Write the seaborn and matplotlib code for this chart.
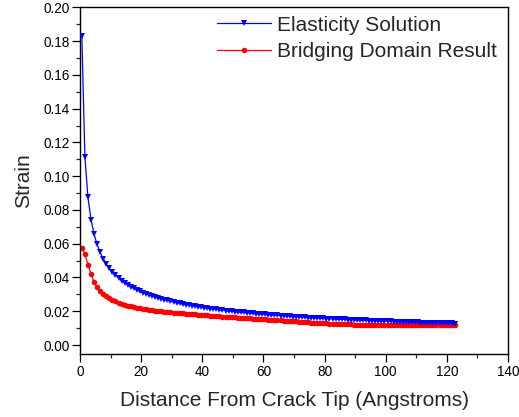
import matplotlib
matplotlib.use("Agg")
import matplotlib.pyplot as plt
from matplotlib.ticker import MultipleLocator
import seaborn as sns
import pandas as pd

# ---- data ----
distance = [0.6, 1.6, 2.6, 3.6, 4.6, 5.6, 6.6, 7.6, 8.6, 9.6,
            10.6, 11.6, 12.6, 13.6, 14.6, 15.6, 16.6, 17.6, 18.6, 19.6,
            20.6, 21.6, 22.6, 23.6, 24.6, 25.6, 26.6, 27.6, 28.6, 29.6,
            30.6, 31.6, 32.6, 33.6, 34.6, 35.6, 36.6, 37.6, 38.6, 39.6,
            40.6, 41.6, 42.6, 43.6, 44.6, 45.6, 46.6, 47.6, 48.6, 49.6,
            50.6, 51.6, 52.6, 53.6, 54.6, 55.6, 56.6, 57.6, 58.6, 59.6,
            60.6, 61.6, 62.6, 63.6, 64.6, 65.6, 66.6, 67.6, 68.6, 69.6,
            70.6, 71.6, 72.6, 73.6, 74.6, 75.6, 76.6, 77.6, 78.6, 79.6,
            80.6, 81.6, 82.6, 83.6, 84.6, 85.6, 86.6, 87.6, 88.6, 89.6,
            90.6, 91.6, 92.6, 93.6, 94.6, 95.6, 96.6, 97.6, 98.6, 99.6,
            100.6, 101.6, 102.6, 103.6, 104.6, 105.6, 106.6, 107.6, 108.6, 109.6,
            110.6, 111.6, 112.6, 113.6, 114.6, 115.6, 116.6, 117.6, 118.6, 119.6,
            120.6, 121.6, 122.6]

elasticity = [0.1830, 0.1115, 0.0874, 0.0743, 0.0657, 0.0596, 0.0549, 0.0511, 0.0481, 0.0455,
              0.0433, 0.0414, 0.0397, 0.0382, 0.0369, 0.0357, 0.0346, 0.0336, 0.0327, 0.0318,
              0.0311, 0.0303, 0.0297, 0.0290, 0.0284, 0.0279, 0.0273, 0.0268, 0.0264, 0.0259,
              0.0255, 0.0251, 0.0247, 0.0243, 0.0240, 0.0236, 0.0233, 0.0230, 0.0227, 0.0224,
              0.0221, 0.0219, 0.0216, 0.0214, 0.0211, 0.0209, 0.0207, 0.0204, 0.0202, 0.0200,
              0.0198, 0.0196, 0.0194, 0.0193, 0.0191, 0.0189, 0.0187, 0.0186, 0.0184, 0.0183,
              0.0181, 0.0180, 0.0178, 0.0177, 0.0175, 0.0174, 0.0173, 0.0171, 0.0170, 0.0169,
              0.0168, 0.0167, 0.0165, 0.0164, 0.0163, 0.0162, 0.0161, 0.0160, 0.0159, 0.0158,
              0.0157, 0.0156, 0.0155, 0.0154, 0.0153, 0.0152, 0.0152, 0.0151, 0.0150, 0.0149,
              0.0148, 0.0147, 0.0147, 0.0146, 0.0145, 0.0144, 0.0143, 0.0143, 0.0142, 0.0141,
              0.0141, 0.0140, 0.0139, 0.0139, 0.0138, 0.0137, 0.0137, 0.0136, 0.0135, 0.0135,
              0.0134, 0.0133, 0.0133, 0.0132, 0.0132, 0.0131, 0.0131, 0.0130, 0.0129, 0.0129,
              0.0128, 0.0128, 0.0127]

bridging = [0.0575, 0.0540, 0.0475, 0.0422, 0.0373, 0.0345, 0.0320, 0.0302, 0.0288, 0.0276,
            0.0266, 0.0258, 0.0251, 0.0244, 0.0239, 0.0234, 0.0229, 0.0225, 0.0221, 0.0218,
            0.0215, 0.0212, 0.0209, 0.0207, 0.0204, 0.0202, 0.0200, 0.0198, 0.0196, 0.0194,
            0.0192, 0.0190, 0.0188, 0.0187, 0.0185, 0.0184, 0.0182, 0.0181, 0.0179, 0.0178,
            0.0177, 0.0175, 0.0174, 0.0173, 0.0172, 0.0170, 0.0169, 0.0168, 0.0167, 0.0166,
            0.0164, 0.0163, 0.0162, 0.0161, 0.0160, 0.0159, 0.0157, 0.0156, 0.0155, 0.0154,
            0.0152, 0.0151, 0.0150, 0.0149, 0.0147, 0.0146, 0.0145, 0.0144, 0.0142, 0.0141,
            0.0140, 0.0139, 0.0137, 0.0136, 0.0135, 0.0133, 0.0132, 0.0131, 0.0130, 0.0129,
            0.0128, 0.0127, 0.0126, 0.0125, 0.0124, 0.0123, 0.0123, 0.0122, 0.0122, 0.0121,
            0.0121, 0.0121, 0.0120, 0.0120, 0.0120, 0.0119, 0.0119, 0.0119, 0.0119, 0.0118,
            0.0118, 0.0118, 0.0118, 0.0118, 0.0118, 0.0118, 0.0118, 0.0118, 0.0118, 0.0118,
            0.0118, 0.0118, 0.0118, 0.0118, 0.0118, 0.0118, 0.0119, 0.0119, 0.0119, 0.0119,
            0.0119, 0.0120, 0.0120]

label_elastic = "Elasticity Solution"
label_bridge = "Bridging Domain Result"
x_ticks = [0, 20, 40, 60, 80, 100, 120, 140]
y_ticks = [0.00, 0.02, 0.04, 0.06, 0.08, 0.10, 0.12, 0.14, 0.16, 0.18, 0.20]

# ---- styling ----
sns.set_style("ticks")
plt.rcParams['font.family'] = ['Liberation Sans', 'DejaVu Sans']

fig = plt.figure(figsize=(5.19, 4.17), dpi=100)
ax = fig.add_axes([80/519, 1 - 354/417, 428/519, 346.7/417])

df_e = pd.DataFrame({"x": distance, "y": elasticity})
df_b = pd.DataFrame({"x": distance, "y": bridging})

sns.lineplot(data=df_e, x="x", y="y", ax=ax, color="#0000ff", marker="v",
             markersize=4.6, markeredgewidth=0, linewidth=0.9, label=label_elastic,
             sort=False, zorder=3)
sns.lineplot(data=df_b, x="x", y="y", ax=ax, color="#ff0000", marker="o",
             markersize=4.0, markeredgewidth=0, linewidth=0.9, label=label_bridge,
             sort=False, zorder=2)

ax.set_xlim(0, 140)
ax.set_ylim(-0.0053, 0.20)
ax.set_xticks(x_ticks)
ax.set_yticks(y_ticks)
ax.set_xticklabels([str(t) for t in x_ticks])
ax.set_yticklabels([f"{t:.2f}" for t in y_ticks])
ax.xaxis.set_minor_locator(MultipleLocator(10))
ax.yaxis.set_minor_locator(MultipleLocator(0.01))
ax.tick_params(axis="both", which="major", direction="out", length=5.8, width=0.9,
               labelsize=9.8, colors="black", pad=1.8, top=False, right=False)
ax.tick_params(axis="both", which="minor", direction="out", length=3, width=0.9,
               top=False, right=False)
for s in ax.spines.values():
    s.set_linewidth(1.0)
    s.set_color("black")
    s.set_visible(True)

ax.set_xlabel("Distance From Crack Tip (Angstroms)", fontsize=15, labelpad=9)
ax.set_ylabel("Strain", fontsize=15, labelpad=7)

leg = ax.legend(loc="upper left", bbox_to_anchor=(0.319, 0.976), frameon=False,
                fontsize=15, handlelength=2.6, handletextpad=0.3, labelspacing=0.35,
                borderpad=0, borderaxespad=0)

fig.savefig("out.png", dpi=100)
